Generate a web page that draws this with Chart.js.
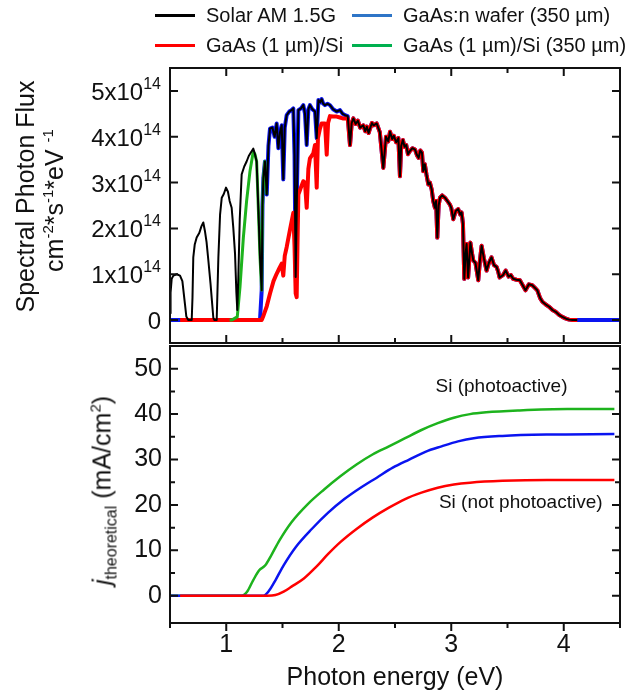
<!DOCTYPE html>
<html lang="en">
<head>
  <meta charset="UTF-8">
  <title>Spectral photon flux and theoretical current</title>
  <style>
    body {
      margin: 0;
      background: #fff;
      color: #111;
      font-family: "Liberation Sans", Arial, sans-serif;
    }
    #wrap {
      position: relative;
      width: 634px;
      height: 697px;
      overflow: hidden;
    }
    #wrap canvas {
      position: absolute;
      left: 0;
    }
    #fluxChart { top: 0; }
    #jChart { top: 323px; }
    .leg {
      position: absolute;
      height: 20px;
      display: flex;
      align-items: center;
      font-size: 20px;
      white-space: nowrap;
    }
    .leg span {
      display: inline-block;
      width: 40px;
      height: 3px;
      margin-right: 11px;
    }
    .ytitle {
      position: absolute;
      width: 300px;
      height: 25px;
      font-size: 25px;
      line-height: 25px;
      text-align: center;
      white-space: nowrap;
      transform: rotate(-90deg);
    }
    .ytitle sup { font-size: 15px; line-height: 0; vertical-align: 10px; }
    .ytitle sub { font-size: 16px; line-height: 0; vertical-align: -6px; }
  </style>
</head>
<body>
  <div id="wrap">
    <canvas id="fluxChart" width="634" height="360"></canvas>
    <canvas id="jChart" width="634" height="374"></canvas>

    <!-- legend -->
    <div class="leg" style="left:155px; top:5px;"><span style="background:#000"></span>Solar AM 1.5G</div>
    <div class="leg" style="left:352px; top:5px;"><span style="background:#2e75c7"></span>GaAs:n wafer (350 µm)</div>
    <div class="leg" style="left:155px; top:35px;"><span style="background:#ff0000"></span>GaAs (1 µm)/Si</div>
    <div class="leg" style="left:352px; top:35px;"><span style="background:#00b04f"></span>GaAs (1 µm)/Si (350 µm)</div>

    <!-- axis titles -->
    <div class="ytitle" style="left:-125px; top:184px;">Spectral Photon Flux</div>
    <div class="ytitle" style="left:-96px; top:188px;">cm<sup>-2</sup>*s<sup>-1</sup>*eV <sup>-1</sup></div>
    <div class="ytitle" style="left:-48px; top:478px;"><i>j</i><sub>theoretical</sub> (mA/cm<sup>2</sup>)</div>
  </div>

  <script src="https://cdn.jsdelivr.net/npm/chart.js"></script>
  <script>
    const FONT = '"Liberation Sans", Arial, sans-serif';

    // photon energy (eV) and flux (x10^14 cm-2 s-1 eV-1)
    const solarLowE = [0.50, 0.505, 0.515, 0.53, 0.56, 0.589, 0.61, 0.633, 0.645, 0.663,
      0.693, 0.70, 0.707, 0.72, 0.737, 0.76, 0.78, 0.796, 0.81, 0.825,
      0.841, 0.86, 0.875, 0.885, 0.895, 0.915, 0.93, 0.945, 0.96, 0.978,
      0.998, 1.015, 1.03, 1.048, 1.063, 1.078, 1.09, 1.098, 1.107, 1.12,
      1.137, 1.16, 1.181, 1.20, 1.22, 1.24, 1.255, 1.27, 1.28, 1.29,
      1.30];
    const solarLowF = [0.15, 0.60, 0.90, 0.97, 1.00, 0.97, 0.85, 0.35, 0.08, 0.00,
      0.00, 0.50, 1.37, 1.65, 1.80, 1.90, 2.05, 2.13, 1.95, 1.70,
      1.30, 0.80, 0.35, 0.05, 0.00, 0.00, 1.37, 2.30, 2.67, 2.75,
      2.89, 2.80, 2.60, 2.45, 2.00, 1.45, 0.60, 0.22, 0.90, 2.20,
      3.18, 3.35, 3.46, 3.58, 3.66, 3.74, 3.62, 3.46, 2.80, 2.10,
      1.37];

    const solarMidE = [1.315, 1.322, 1.33, 1.344, 1.36, 1.375, 1.389, 1.41, 1.43, 1.448,
      1.463, 1.478, 1.493, 1.507, 1.52, 1.537, 1.56, 1.58, 1.596, 1.607,
      1.617, 1.63, 1.641, 1.665, 1.685, 1.70, 1.715, 1.73, 1.744, 1.765,
      1.789, 1.804, 1.819, 1.835, 1.848, 1.862, 1.878, 1.90, 1.922, 1.95,
      1.982, 2.011, 2.035, 2.056, 2.08, 2.10, 2.115];
    const solarMidF = [0.65, 2.50, 3.10, 3.46, 2.74, 3.80, 4.18, 4.20, 4.00, 4.29,
      3.75, 4.10, 4.25, 3.07, 4.20, 4.47, 4.55, 4.58, 4.62, 3.60,
      0.94, 3.00, 4.58, 4.62, 4.69, 4.50, 3.82, 4.60, 4.69, 4.60,
      4.55, 3.97, 4.80, 4.75, 4.82, 4.72, 4.69, 4.72, 4.69, 4.60,
      4.55, 4.58, 4.50, 4.47, 4.45, 3.82, 4.30];

    const solarHighE = [2.13, 2.15, 2.17, 2.19, 2.218, 2.235, 2.25, 2.265, 2.278, 2.295,
      2.31, 2.337, 2.365, 2.396, 2.42, 2.44, 2.456, 2.475, 2.49, 2.51,
      2.53, 2.538, 2.544, 2.555, 2.57, 2.585, 2.60, 2.615, 2.63, 2.655,
      2.678, 2.695, 2.71, 2.725, 2.74, 2.751, 2.765, 2.78, 2.796, 2.81,
      2.826, 2.84, 2.855, 2.865, 2.876, 2.888, 2.90, 2.92, 2.944, 2.965,
      2.988, 3.00, 3.018, 3.04, 3.062, 3.08, 3.092, 3.104, 3.116, 3.126,
      3.136, 3.15, 3.17, 3.185, 3.196, 3.215, 3.24, 3.255, 3.27, 3.29,
      3.314, 3.335, 3.358, 3.38, 3.403, 3.418, 3.43, 3.46, 3.484, 3.51,
      3.53, 3.55, 3.58, 3.61, 3.635, 3.66, 3.69, 3.72, 3.745, 3.765,
      3.79, 3.81, 3.84, 3.87, 3.90, 3.928, 3.96, 3.988, 4.02, 4.047,
      4.08, 4.12];
    const solarHighF = [4.40, 4.28, 4.35, 4.20, 4.25, 4.12, 4.22, 4.08, 4.18, 4.30,
      4.25, 4.29, 4.10, 3.32, 4.00, 3.90, 4.11, 3.95, 4.02, 3.88,
      3.97, 3.50, 3.14, 3.80, 3.93, 3.78, 3.82, 3.62, 3.68, 3.75,
      3.72, 3.60, 3.54, 3.70, 3.65, 3.25, 3.40, 3.17, 2.96, 3.00,
      2.85, 2.60, 2.45, 2.60, 1.80, 2.50, 2.67, 2.72, 2.67, 2.60,
      2.52, 2.45, 2.20, 2.38, 2.42, 2.30, 2.35, 2.10, 0.90, 1.40,
      1.66, 0.93, 1.69, 1.45, 1.30, 1.25, 0.87, 1.30, 1.62, 1.35,
      1.08, 1.25, 1.37, 1.20, 1.16, 1.05, 0.93, 0.98, 1.08, 0.95,
      0.98, 0.90, 0.88, 0.87, 0.76, 0.65, 0.78, 0.76, 0.70, 0.65,
      0.48, 0.40, 0.34, 0.29, 0.22, 0.18, 0.11, 0.07, 0.03, 0.01,
      0.00, 0.00];

    // GaAs (1 µm)/Si, below the solar curve up to ~2.1 eV
    const redE = [0.59, 1.315, 1.33, 1.36, 1.389, 1.42, 1.448, 1.47, 1.493, 1.507,
      1.52, 1.537, 1.565, 1.596, 1.607, 1.617, 1.626, 1.633, 1.641, 1.665,
      1.685, 1.70, 1.715, 1.73, 1.744, 1.774, 1.789, 1.804, 1.815, 1.833,
      1.848, 1.878, 1.893, 1.905, 1.922, 1.95, 1.982, 2.011, 2.035, 2.056,
      2.08, 2.10, 2.115];
    const redF = [0.00, 0.00, 0.09, 0.30, 0.58, 0.85, 1.01, 1.12, 1.23, 0.97,
      1.40, 1.59, 1.95, 2.34, 1.60, 0.58, 0.50, 1.60, 2.74, 2.90,
      3.03, 3.00, 2.45, 3.30, 3.53, 3.64, 3.82, 2.89, 3.97, 4.18,
      4.29, 4.29, 3.61, 4.30, 4.45, 4.44, 4.44, 4.42, 4.40, 4.40,
      4.40, 3.82, 4.30];

    // GaAs (1 µm)/Si (350 µm), visible part near 1.1-1.35 eV
    const greenE = [1.03, 1.048, 1.098, 1.122, 1.152, 1.181, 1.211, 1.24, 1.255, 1.27,
      1.28, 1.29, 1.30, 1.315, 1.322, 1.33, 1.344, 1.36];
    const greenF = [0.00, 0.00, 0.07, 0.72, 1.80, 2.60, 3.25, 3.68, 3.62, 3.46,
      2.80, 2.10, 1.37, 0.65, 2.50, 3.10, 3.46, 2.74];

    // GaAs:n wafer: zero below the gap and past the end of the spectrum
    const blueLowE = [0.50, 1.30];
    const blueLowF = [0, 0];
    const blueTailE = [4.50];
    const blueTailF = [0];

    // theoretical current density (mA/cm2)
    const jGreenE = [0.5, 1.138, 1.185, 1.239, 1.293, 1.347, 1.40, 1.473, 1.58, 1.725,
      1.87, 2.014, 2.158, 2.30, 2.446, 2.59, 2.735, 2.88, 3.023, 3.167,
      3.31, 3.6, 4.03, 4.45];
    const jGreen = [0, 0, 0.87, 3.4, 5.6, 6.7, 8.9, 12.2, 16.2, 20.2,
      23.4, 26.3, 28.9, 31.1, 32.9, 34.7, 36.5, 38.0, 39.2, 40.0,
      40.4, 40.8, 41.1, 41.1];
    const jBlueE = [0.5, 1.33, 1.383, 1.437, 1.51, 1.617, 1.76, 1.906, 2.05, 2.194,
      2.338, 2.48, 2.626, 2.77, 2.914, 3.06, 3.20, 3.455, 3.85, 4.45];
    const jBlue = [0, 0, 1.2, 3.4, 6.7, 10.7, 14.7, 18.3, 21.3, 23.8,
      26.0, 28.2, 30.0, 31.7, 32.9, 34.0, 34.7, 35.2, 35.5, 35.6];
    const jRedE = [0.59, 1.365, 1.437, 1.51, 1.58, 1.69, 1.797, 1.906, 2.014, 2.158,
      2.30, 2.446, 2.59, 2.735, 2.88, 3.023, 3.167, 3.455, 3.85, 4.45];
    const jRed = [0, 0, 0.15, 0.9, 2.0, 3.8, 6.3, 9.2, 11.8, 14.7,
      17.2, 19.4, 21.3, 22.7, 23.8, 24.5, 24.9, 25.3, 25.5, 25.5];

    // ticks
    const eTicks = [1, 2, 3, 4];
    const eMinor = [0.5, 1.5, 2.5, 3.5, 4.5];
    const fluxTicks = [0, 1, 2, 3, 4, 5];
    const fluxExp = '14';
    const jTicks = [0, 10, 20, 30, 40, 50];
    const jMinor = [5, 15, 25, 35, 45];

    const jNotes = [
      { text: 'Si (photoactive)', e: 2.86, j: 46 },
      { text: 'Si (not photoactive)', e: 2.89, j: 20.5 }
    ];

    const pts = (xs, ys) => xs.map((x, i) => ({ x, y: ys[i] }));

    // box round the plot area plus inward / outward tick marks
    function makeFrame(marks) {
      return {
        id: 'frame',
        afterDraw(chart) {
          const { ctx, chartArea: a, scales } = chart;
          ctx.save();
          ctx.strokeStyle = '#111';
          ctx.lineWidth = 2;
          ctx.strokeRect(a.left, a.top, a.right - a.left, a.bottom - a.top);
          ctx.beginPath();
          marks.forEach(m => {
            m.values.forEach(v => {
              if (m.side === 'top' || m.side === 'bottom') {
                const px = scales.x.getPixelForValue(v);
                const y0 = m.side === 'top' ? a.top : a.bottom;
                ctx.moveTo(px, y0);
                ctx.lineTo(px, y0 + m.dir * m.len);
              } else {
                const py = scales.y.getPixelForValue(v);
                const x0 = m.side === 'left' ? a.left : a.right;
                ctx.moveTo(x0, py);
                ctx.lineTo(x0 + m.dir * m.len, py);
              }
            });
          });
          ctx.stroke();
          ctx.restore();
        }
      };
    }

    // "Nx10^14" labels of the flux axis
    const fluxLabels = {
      id: 'fluxLabels',
      afterDraw(chart) {
        const { ctx, chartArea: a, scales: { y } } = chart;
        ctx.save();
        ctx.fillStyle = '#111';
        ctx.textAlign = 'right';
        ctx.textBaseline = 'alphabetic';
        fluxTicks.forEach(v => {
          const py = y.getPixelForValue(v);
          let right = a.left - 9;
          if (v !== 0) {
            ctx.font = '16px ' + FONT;
            ctx.fillText(fluxExp, right, py - 2);
            right -= ctx.measureText(fluxExp).width;
          }
          ctx.font = '24px ' + FONT;
          ctx.fillText(v === 0 ? '0' : v + 'x10', right, py + 9);
        });
        ctx.restore();
      }
    };

    const notes = {
      id: 'notes',
      afterDraw(chart) {
        const { ctx, scales: { x, y } } = chart;
        ctx.save();
        ctx.fillStyle = '#111';
        ctx.font = '19px ' + FONT;
        ctx.textAlign = 'left';
        ctx.textBaseline = 'middle';
        jNotes.forEach(n => ctx.fillText(n.text, x.getPixelForValue(n.e), y.getPixelForValue(n.j)));
        ctx.restore();
      }
    };

    const lineDefaults = { pointRadius: 0, fill: false, tension: 0, borderJoinStyle: 'round' };

    new Chart(document.getElementById('fluxChart'), {
      type: 'line',
      data: {
        datasets: [
          { ...lineDefaults, label: 'Solar AM 1.5G', borderColor: '#000', borderWidth: 2,
            data: pts(solarLowE.concat(solarMidE, solarHighE), solarLowF.concat(solarMidF, solarHighF)) },
          { ...lineDefaults, label: 'GaAs (1 µm)/Si (350 µm)', borderColor: '#1db31d', borderWidth: 3,
            data: pts(greenE, greenF) },
          { ...lineDefaults, label: 'GaAs (1 µm)/Si', borderColor: '#ff0000', borderWidth: 4,
            data: pts(redE.concat(solarHighE), redF.concat(solarHighF)) },
          { ...lineDefaults, label: 'GaAs:n wafer (350 µm)', borderColor: '#0a14f0', borderWidth: 4,
            data: pts(blueLowE.concat(solarMidE, solarHighE, blueTailE), blueLowF.concat(solarMidF, solarHighF, blueTailF)) }
        ]
      },
      options: {
        responsive: false,
        animation: false,
        events: [],
        layout: { padding: { left: 170, right: 14, top: 68, bottom: 17 } },
        plugins: { legend: { display: false }, tooltip: { enabled: false } },
        scales: {
          x: { type: 'linear', display: false, min: 0.5, max: 4.5 },
          y: { type: 'linear', display: false, min: -0.5, max: 5.5 }
        }
      },
      plugins: [makeFrame([
        { side: 'top', values: eTicks, len: 8, dir: 1 },
        { side: 'top', values: [1.5, 2.5, 3.5], len: 5, dir: 1 },
        { side: 'bottom', values: eTicks, len: 8, dir: -1 },
        { side: 'bottom', values: [1.5, 2.5, 3.5], len: 5, dir: -1 },
        { side: 'left', values: fluxTicks, len: 8, dir: 1 },
        { side: 'right', values: fluxTicks, len: 8, dir: -1 }
      ]), fluxLabels]
    });

    const smooth = { ...lineDefaults, borderWidth: 2.5, cubicInterpolationMode: 'monotone' };

    new Chart(document.getElementById('jChart'), {
      type: 'line',
      data: {
        datasets: [
          { ...smooth, label: 'GaAs (1 µm)/Si', borderColor: '#ff0000', data: pts(jRedE, jRed) },
          { ...smooth, label: 'GaAs:n wafer (350 µm)', borderColor: '#0a14f0', data: pts(jBlueE, jBlue) },
          { ...smooth, label: 'GaAs (1 µm)/Si (350 µm)', borderColor: '#1db31d', data: pts(jGreenE, jGreen) }
        ]
      },
      options: {
        responsive: false,
        animation: false,
        events: [],
        layout: { padding: { left: 0, right: 14, top: 20, bottom: 0 } },
        plugins: { legend: { display: false }, tooltip: { enabled: false } },
        scales: {
          x: {
            type: 'linear', min: 0.5, max: 4.5,
            grid: { display: false, drawTicks: false },
            border: { display: false },
            afterBuildTicks: s => { s.ticks = eTicks.map(v => ({ value: v })); },
            afterFit: s => { s.height = 74; },
            ticks: { color: '#111', font: { family: FONT, size: 25 }, padding: 7, maxRotation: 0 },
            title: { display: true, text: 'Photon energy (eV)', color: '#111',
                     font: { family: FONT, size: 25 }, padding: { top: 0, bottom: 4 } }
          },
          y: {
            type: 'linear', min: -6, max: 55,
            grid: { display: false, drawTicks: false },
            border: { display: false },
            afterBuildTicks: s => { s.ticks = jTicks.map(v => ({ value: v })); },
            afterFit: s => { s.width = 170; },
            ticks: { color: '#111', font: { family: FONT, size: 25 }, padding: 8 }
          }
        }
      },
      plugins: [makeFrame([
        { side: 'bottom', values: eTicks, len: 8, dir: 1 },
        { side: 'bottom', values: eMinor, len: 5, dir: 1 },
        { side: 'left', values: jTicks, len: 8, dir: 1 },
        { side: 'left', values: jMinor, len: 5, dir: 1 },
        { side: 'right', values: jTicks, len: 8, dir: -1 },
        { side: 'right', values: jMinor, len: 5, dir: -1 }
      ]), notes]
    });
  </script>
</body>
</html>
